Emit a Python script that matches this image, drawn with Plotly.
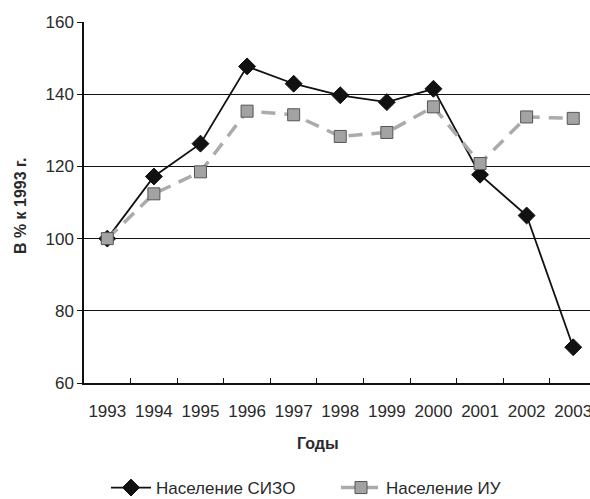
import plotly.graph_objects as go

years = ["1993", "1994", "1995", "1996", "1997", "1998", "1999", "2000", "2001", "2002", "2003"]
sizo = [100, 117.2, 126.3, 147.7, 142.9, 139.7, 137.8, 141.5, 117.7, 106.4, 69.9]
iu = [100, 112.4, 118.5, 135.3, 134.3, 128.3, 129.4, 136.5, 120.8, 133.7, 133.3]
y_ticks = [60, 80, 100, 120, 140, 160]

FONT = "Liberation Sans, Arial, sans-serif"
TXT = "#2a2a2a"

W, H = 590, 499
L, T, B, R = 84, 22, 116, 0
PW, PH = W - L - R, H - T - B

fig = go.Figure()
fig.add_trace(go.Scatter(
    x=years, y=sizo, name="Население СИЗО", mode="lines+markers",
    line=dict(color="#111111", width=1.8),
    marker=dict(symbol="diamond", size=13, color="#111111", line=dict(color="#111111", width=1)),
))
fig.add_trace(go.Scatter(
    x=years, y=iu, name="Население ИУ", mode="lines+markers",
    line=dict(color="#ababab", width=3.5, dash="14px,9px"),
    marker=dict(symbol="square", size=12, color="#a3a3a3", line=dict(color="#555555", width=1)),
))

fig.update_layout(
    width=W, height=H,
    margin=dict(l=L, r=R, t=T, b=B),
    paper_bgcolor="white", plot_bgcolor="white",
    font=dict(family=FONT, size=17, color=TXT),
    showlegend=True,
    legend=dict(orientation="h", xref="container", yref="container",
                x=(112 - 6) / W, xanchor="left", y=1 - 488 / H, yanchor="middle",
                font=dict(size=17, color=TXT), itemwidth=40,
                entrywidth=175, entrywidthmode="pixels",
                bgcolor="rgba(0,0,0,0)"),
    xaxis=dict(
        type="category", range=[-0.5, 10.36], automargin=False,
        tickson="boundaries", ticks="inside", ticklen=5, tickcolor="#111111",
        showline=True, linecolor="#111111", linewidth=1.5,
        showgrid=False, zeroline=False, tickangle=0,
        ticklabelstandoff=12,
        tickfont=dict(size=17, color=TXT),
    ),
    yaxis=dict(
        range=[60, 160], tickvals=y_ticks, automargin=False,
        ticks="outside", ticklen=5, tickcolor="#111111",
        showline=True, linecolor="#111111", linewidth=1.5,
        showgrid=True, gridcolor="#111111", gridwidth=1.3,
        zeroline=False,
        tickfont=dict(size=17, color=TXT),
    ),
    annotations=[
        dict(text="<b>Годы</b>", xref="paper", yref="paper",
             x=(318 - L) / PW, y=(H - B - 443) / PH,
             xanchor="center", yanchor="middle", showarrow=False,
             font=dict(size=16, color=TXT)),
        dict(text="<b>В % к 1993 г.</b>", xref="paper", yref="paper",
             x=(20 - L) / PW, y=0.49, textangle=-90,
             xanchor="center", yanchor="middle", showarrow=False,
             font=dict(size=16, color=TXT)),
    ],
)

fig.write_html("out.html",
               config={"displayModeBar": False},
               post_script="document.body.style.margin='0';document.body.style.overflow='hidden';")
